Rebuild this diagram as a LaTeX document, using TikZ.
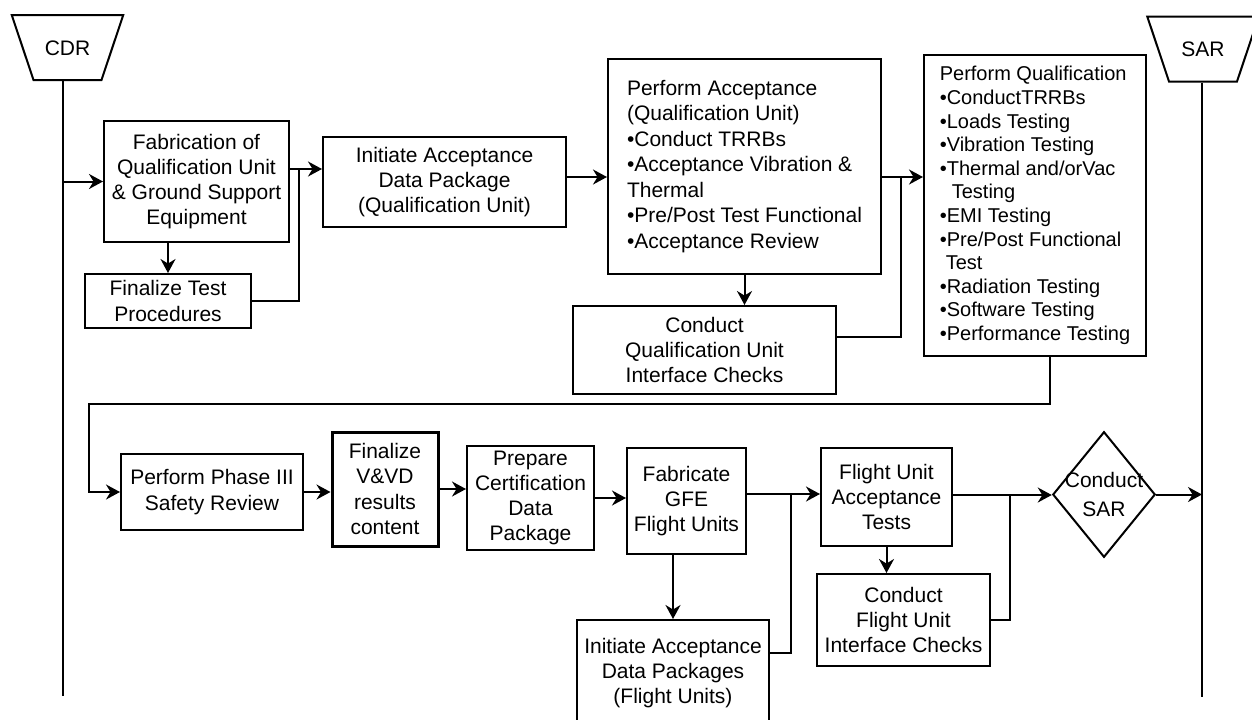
\documentclass[tikz,border=0pt]{standalone}
\usepackage{fontspec}
\setmainfont{Liberation Sans}
\usetikzlibrary{arrows.meta, shapes.geometric, calc}

\begin{document}
\begin{tikzpicture}[x=0.5pt, y=-0.5pt, >={Stealth[length=7pt,width=7.5pt]}, line width=1pt,
  box/.style={draw, align=center, inner sep=0pt, font=\fontsize{10.5}{12.6}\selectfont},
  listbox/.style={box, align=left, font=\fontsize{10.5}{12.75}\selectfont},
  gate/.style={draw, trapezium, trapezium left angle=71.5, trapezium right angle=71.5,
    shape border rotate=180, text width=23pt, align=center, text height=7.6pt,
    text depth=0pt, inner xsep=5.5pt, inner ysep=12.45pt,
    font=\fontsize{10.5}{12.6}\selectfont}]
  \useasboundingbox (0,0) rectangle (1252,719);

  % Milestones and lifelines
  \node[gate] (cdr) at (67.5,47.5) {CDR};
  \node[gate] (sar) at (1203,49) {SAR};
  \coordinate (cdrend) at (63,696);
  \coordinate (sarend) at (1202,697);
  \draw (cdrend |- cdr.south) -- (cdrend);
  \draw (sarend |- sar.south) -- (sarend);

  % Qualification unit
  \node[box, minimum width=92.5pt, minimum height=60.5pt] (fab) at (196.5,181.5)
    {Fabrication of\\Qualification Unit\\\& Ground Support\\Equipment};
  \node[box, minimum width=83pt, minimum height=27pt] (fintest) at (168,301)
    {Finalize Test\\Procedures};
  \node[box, minimum width=121.5pt, minimum height=45pt] (init) at (444.5,182)
    {Initiate Acceptance\\Data Package\\(Qualification Unit)};
  \node[listbox, minimum width=136.5pt, minimum height=107.5pt] (pacc) at (744.5,166.5)
    {Perform Acceptance\\(Qualification Unit)\\•Conduct TRRBs\\•Acceptance Vibration \&\\Thermal\\•Pre/Post Test Functional\\•Acceptance Review};
  \node[box, minimum width=131.5pt, minimum height=44pt] (qchk) at (704.5,350)
    {Conduct\\Qualification Unit\\Interface Checks};
  \node[listbox, font=\fontsize{10}{11.8}\selectfont, minimum width=111pt, minimum height=150.5pt] (pqual) at (1035,205.5)
    {Perform Qualification\\•ConductTRRBs\\•Loads Testing\\•Vibration Testing\\•Thermal and/orVac\\\hspace*{6pt}Testing\\•EMI Testing\\•Pre/Post Functional\\\hspace*{3pt}Test\\•Radiation Testing\\•Software Testing\\•Performance Testing};

  % Certification and flight units
  \node[box, minimum width=91pt, minimum height=38pt] (safety) at (212,492)
    {Perform Phase III\\Safety Review};
  \node[box, line width=1.5pt, minimum width=53pt, minimum height=57pt] (vvd) at (385,489)
    {Finalize\\V\&VD\\results\\content};
  \node[box, minimum width=63.5pt, minimum height=52pt] (prep) at (530.5,498)
    {Prepare\\Certification\\Data\\Package};
  \node[box, minimum width=59.5pt, minimum height=53pt] (fabgfe) at (686.5,501)
    {Fabricate\\GFE\\Flight Units};
  \node[box, minimum width=96pt, minimum height=53pt] (iafu) at (673,673)
    {Initiate Acceptance\\Data Packages\\(Flight Units)};
  \node[box, minimum width=65.5pt, minimum height=49pt] (fuat) at (886.5,497)
    {Flight Unit\\Acceptance\\Tests};
  \node[box, minimum width=86.5pt, minimum height=46pt] (cfu) at (903.5,620)
    {Conduct\\Flight Unit\\Interface Checks};
  \node[draw, diamond, shape aspect=0.816, inner xsep=-3pt, inner ysep=0pt,
    font=\fontsize{10.5}{14.5}\selectfont, align=center] (csar) at (1104,494.5)
    {Conduct\\SAR};

  % Top row connectors
  \draw[->] (cdrend |- fab.west) -- (fab.west);
  \draw[->] (fab.south -| fintest.north) -- (fintest.north);
  \coordinate (j1) at (299,169);
  \draw[->] (fab.east |- j1) -- (init.west |- j1);
  \draw (fintest.east) -| (j1);
  \coordinate (j2) at (901,177);
  \draw[->] (init.east |- j2) -- (pacc.west |- j2);
  \draw[->] (pacc.east |- j2) -- (pqual.west |- j2);
  \draw[->] (pacc.south) -- (pacc.south |- qchk.north);
  \draw ([yshift=6.5pt]qchk.east) -| (j2);

  % Wrap to bottom row
  \coordinate (j3) at (1050,404);
  \coordinate (j4) at (89,404);
  \draw[->] (pqual.south -| j3) -- (j3) -- (j4) |- (safety.west);

  % Bottom row connectors
  \draw[->] (safety.east) -- (safety.east -| vvd.west);
  \draw[->] (vvd.east) -- (vvd.east -| prep.west);
  \draw[->] (prep.east) -- (prep.east -| fabgfe.west);
  \draw[->] (fabgfe.south -| iafu.north) -- (iafu.north);
  \coordinate (j5) at (791,494);
  \coordinate (j6) at (791,653);
  \draw[->] (fabgfe.east |- j5) -- (fuat.west |- j5);
  \draw (iafu.east |- j6) -- (j6) -- (j5);
  \draw[->] (fuat.south) -- (fuat.south |- cfu.north);
  \coordinate (j7) at (1010,495);
  \draw[->] (fuat.east |- j7) -- (csar.west |- j7);
  \draw (cfu.east) -| (j7);
  \draw[->] (csar.east) -- (sarend |- csar.east);
\end{tikzpicture}
\end{document}
